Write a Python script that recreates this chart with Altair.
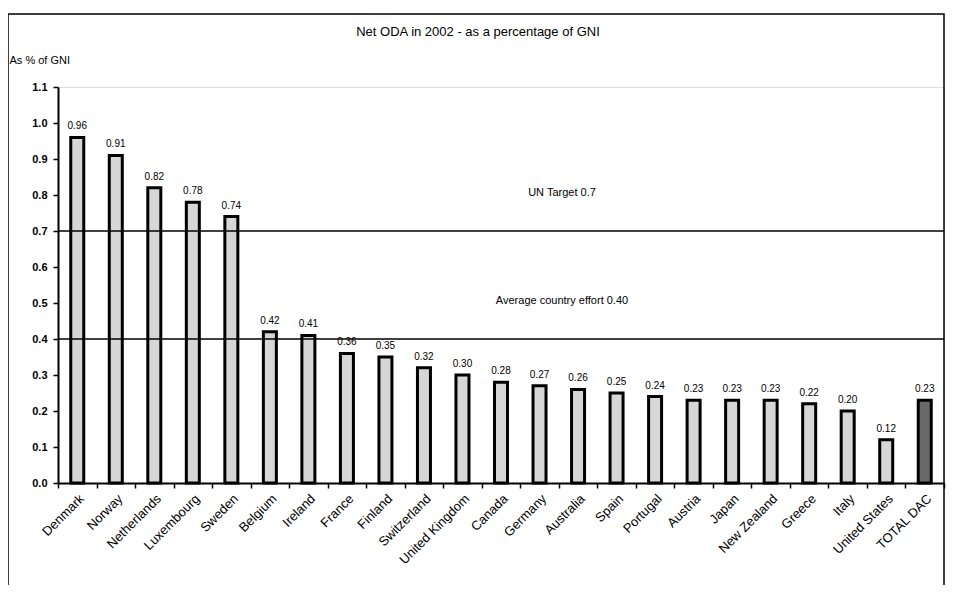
import altair as alt
import pandas as pd

countries = ["Denmark", "Norway", "Netherlands", "Luxembourg", "Sweden", "Belgium",
             "Ireland", "France", "Finland", "Switzerland", "United Kingdom", "Canada",
             "Germany", "Australia", "Spain", "Portugal", "Austria", "Japan",
             "New Zealand", "Greece", "Italy", "United States", "TOTAL DAC"]
values = [0.96, 0.91, 0.82, 0.78, 0.74, 0.42, 0.41, 0.36, 0.35, 0.32, 0.30, 0.28,
          0.27, 0.26, 0.25, 0.24, 0.23, 0.23, 0.23, 0.22, 0.20, 0.12, 0.23]
groups = ["country"] * 22 + ["total"]
y_ticks = [0.0, 0.1, 0.2, 0.3, 0.4, 0.5, 0.6, 0.7, 0.8, 0.9, 1.0, 1.1]
ref_values = [0.7, 0.40]
ref_labels = ["UN Target 0.7", "Average country effort 0.40"]
title_text = "Net ODA in 2002 - as a percentage of GNI"
y_title = "As % of GNI"

df = pd.DataFrame({"country": countries, "value": values, "group": groups,
                   "label": [f"{v:.2f}" for v in values]})
ref_df = pd.DataFrame({"value": ref_values, "text": ref_labels})

FONT = "Liberation Sans"
W, H = 886, 396

x_axis = alt.Axis(labelAngle=-45, labelFontSize=13, labelColor="black",
                  labelFont=FONT, tickBand="extent", tickSize=5,
                  tickColor="black", tickWidth=1.5, domainColor="black",
                  domainWidth=2, labelPadding=4, title=None)
y_axis = alt.Axis(values=y_ticks, format=".1f", grid=False, title=y_title,
                  labelOverlap=False,
                  titleAngle=0, titleX=-49, titleY=-27, titleAlign="left",
                  titleBaseline="middle", titleFontWeight="normal",
                  titleFontSize=11, titleFont=FONT, titleColor="black",
                  labelFontSize=11, labelFont=FONT, labelColor="black",
                  labelFontWeight="bold", tickSize=5, tickColor="black",
                  tickWidth=1.5, domainColor="black", domainWidth=2,
                  labelPadding=6)
y_scale = alt.Scale(domain=[0, 1.1], nice=False, zero=True)
x_scale = alt.Scale(paddingInner=0, paddingOuter=0)

x_enc = alt.X("country:N", sort=countries, scale=x_scale, axis=x_axis)
y_enc = alt.Y("value:Q", scale=y_scale, axis=y_axis)

base = alt.Chart(df)

bars = base.mark_bar(size=13, stroke="black", strokeWidth=3).encode(
    x=x_enc, y=y_enc,
    color=alt.Color("group:N", scale=alt.Scale(domain=["country", "total"],
                                               range=["#d6d6d6", "#6a6a6a"]),
                    legend=None))

labels = base.mark_text(baseline="bottom", dy=-6, fontSize=10, font=FONT,
                        color="black").encode(x=x_enc, y=y_enc, text="label:N")

rules = alt.Chart(ref_df).mark_rule(color="black", strokeWidth=1.5).encode(
    y=y_enc)

ref_text = alt.Chart(ref_df).mark_text(fontSize=11, font=FONT, color="black",
                                       dy=-38).encode(
    x=alt.value(504), y=y_enc, text="text:N")

title_df = pd.DataFrame({"t": [title_text]})
title = alt.Chart(title_df).mark_text(fontSize=13, font=FONT, color="black",
                                      baseline="middle").encode(
    x=alt.value(420), y=alt.value(-55), text="t:N")

frame = alt.Chart(pd.DataFrame({"a": [0]})).mark_rect(
    fillOpacity=0, stroke="black", strokeWidth=1.5).encode(
    x=alt.value(-50), x2=alt.value(W), y=alt.value(-73), y2=alt.value(530))

chart = alt.layer(frame, bars, rules, labels, ref_text, title).properties(
    width=W, height=H,
    autosize=alt.AutoSizeParams(type="none"),
    padding={"left": 50, "top": 79, "right": 2, "bottom": 102},
).configure_view(stroke="#666", strokeWidth=1).configure(background="white")

chart.save("out.html", embed_options={"renderer": "svg", "actions": False})
